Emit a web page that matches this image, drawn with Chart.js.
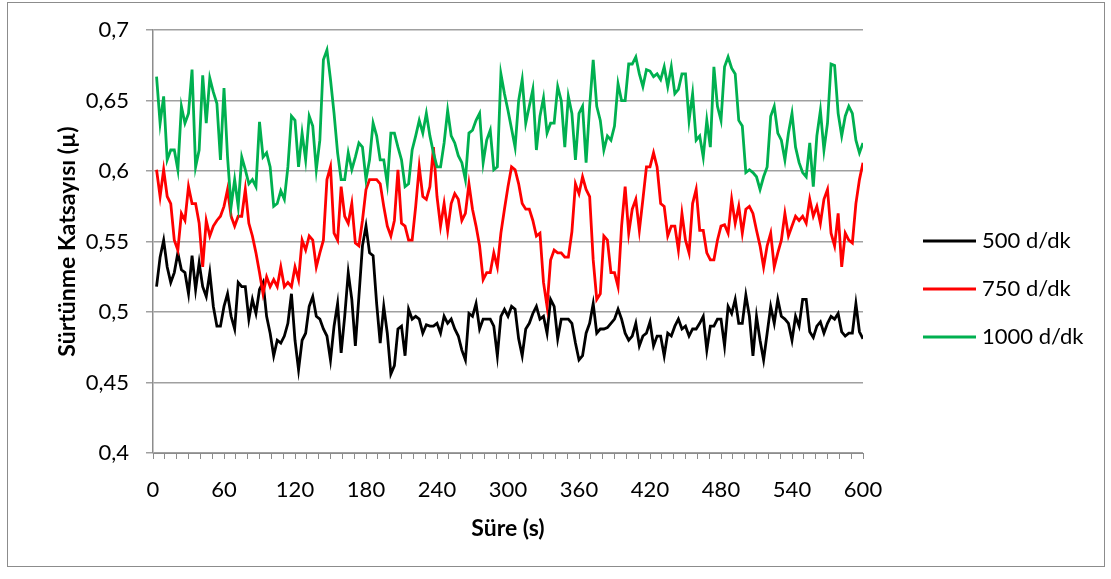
<!DOCTYPE html>
<html>
<head>
<meta charset="utf-8">
<script src="https://cdn.jsdelivr.net/npm/chart.js@4.4.1/dist/chart.umd.min.js"></script>
<style>
  html, body { margin: 0; padding: 0; background: #fff; }
</style>
</head>
<body>
<canvas id="chart" width="1111" height="579"></canvas>
<script>
// readings every 3 s, 3..600
const seconds = Array.from({ length: 200 }, (_, i) => 3 * (i + 1));

const seriesNames = ['500 d/dk', '750 d/dk', '1000 d/dk'];
const seriesColors = ['#000000', '#ff0000', '#00b050'];

const mu500 = [
  0.518, 0.539, 0.551, 0.532, 0.521, 0.528, 0.542, 0.530, 0.528, 0.513,
  0.540, 0.516, 0.535, 0.518, 0.511, 0.528, 0.504, 0.490, 0.490, 0.504,
  0.513, 0.497, 0.488, 0.521, 0.518, 0.518, 0.495, 0.509, 0.499, 0.516,
  0.521, 0.497, 0.485, 0.469, 0.480, 0.478, 0.483, 0.492, 0.513, 0.480,
  0.459, 0.480, 0.485, 0.504, 0.511, 0.497, 0.495, 0.488, 0.483, 0.466,
  0.490, 0.506, 0.471, 0.497, 0.528, 0.509, 0.476, 0.511, 0.547, 0.561,
  0.542, 0.540, 0.506, 0.478, 0.504, 0.485, 0.456, 0.462, 0.488, 0.490,
  0.469, 0.502, 0.495, 0.497, 0.495, 0.485, 0.491, 0.490, 0.490, 0.492,
  0.485, 0.497, 0.492, 0.495, 0.488, 0.483, 0.473, 0.466, 0.499, 0.497,
  0.506, 0.488, 0.495, 0.495, 0.495, 0.490, 0.469, 0.497, 0.502, 0.497,
  0.504, 0.502, 0.481, 0.469, 0.488, 0.492, 0.499, 0.504, 0.495, 0.497,
  0.485, 0.509, 0.504, 0.481, 0.495, 0.495, 0.495, 0.492, 0.478, 0.466,
  0.469, 0.485, 0.492, 0.506, 0.485, 0.488, 0.488, 0.489, 0.492, 0.495,
  0.502, 0.495, 0.485, 0.480, 0.483, 0.492, 0.476, 0.483, 0.485, 0.493,
  0.476, 0.483, 0.483, 0.469, 0.485, 0.483, 0.490, 0.495, 0.488,
  0.490, 0.483, 0.488, 0.488, 0.492, 0.497, 0.473, 0.490, 0.490, 0.495,
  0.495, 0.476, 0.504, 0.499, 0.509, 0.492, 0.492, 0.512, 0.497, 0.469,
  0.497, 0.480, 0.466, 0.485, 0.504, 0.492, 0.509, 0.497, 0.495, 0.492,
  0.480, 0.497, 0.490, 0.509, 0.509, 0.486, 0.482, 0.490, 0.493, 0.485,
  0.492, 0.497, 0.495, 0.499, 0.486, 0.483, 0.485, 0.485, 0.506, 0.486,
  0.481
];

const mu750 = [
  0.601, 0.582, 0.601, 0.582, 0.577, 0.551, 0.544, 0.570, 0.565, 0.589,
  0.577, 0.577, 0.563, 0.532, 0.565, 0.554, 0.561, 0.565, 0.568, 0.575,
  0.587, 0.568, 0.561, 0.568, 0.568, 0.587, 0.563, 0.554, 0.542, 0.528,
  0.513, 0.525, 0.518, 0.523, 0.518, 0.532, 0.518, 0.521, 0.518, 0.532,
  0.523, 0.551, 0.544, 0.554, 0.551, 0.532, 0.542, 0.551, 0.594, 0.603,
  0.556, 0.551, 0.589, 0.568, 0.563, 0.577, 0.549, 0.547, 0.565, 0.587,
  0.594, 0.594, 0.594, 0.591, 0.575, 0.561, 0.554, 0.565, 0.601, 0.563,
  0.561, 0.551, 0.551, 0.575, 0.603, 0.582, 0.580, 0.589, 0.617, 0.582,
  0.561, 0.577, 0.558, 0.577, 0.584, 0.580, 0.565, 0.570, 0.591, 0.573,
  0.561, 0.547, 0.523, 0.528, 0.528, 0.542, 0.532, 0.556, 0.573, 0.589,
  0.603, 0.601, 0.591, 0.577, 0.573, 0.573, 0.565, 0.554, 0.556, 0.521,
  0.504, 0.537, 0.544, 0.542, 0.542, 0.539, 0.539, 0.557, 0.591, 0.584,
  0.596, 0.587, 0.582, 0.537, 0.509, 0.513, 0.554, 0.551, 0.528, 0.528,
  0.518, 0.561, 0.589, 0.556, 0.573, 0.580, 0.558, 0.580, 0.603, 0.603,
  0.613, 0.603, 0.577, 0.575, 0.554, 0.561, 0.561, 0.544, 0.570,
  0.551, 0.542, 0.577, 0.587, 0.558, 0.558, 0.542, 0.537, 0.537, 0.551,
  0.561, 0.562, 0.556, 0.580, 0.563, 0.575, 0.556, 0.573, 0.575, 0.570,
  0.558, 0.547, 0.532, 0.547, 0.556, 0.532, 0.542, 0.551, 0.570, 0.554,
  0.561, 0.568, 0.565, 0.568, 0.563, 0.580, 0.568, 0.575, 0.563, 0.580,
  0.587, 0.556, 0.547, 0.570, 0.532, 0.556, 0.551, 0.549, 0.577, 0.594,
  0.606
];

const mu1000 = [
  0.667, 0.634, 0.653, 0.608, 0.615, 0.615, 0.601, 0.646, 0.634, 0.641,
  0.672, 0.603, 0.615, 0.668, 0.634, 0.666, 0.656, 0.648, 0.608, 0.659,
  0.610, 0.575, 0.594, 0.575, 0.610, 0.601, 0.591, 0.594, 0.589, 0.635,
  0.610, 0.613, 0.603, 0.575, 0.577, 0.586, 0.580, 0.603, 0.639, 0.636,
  0.603, 0.627, 0.608, 0.639, 0.632, 0.601, 0.622, 0.679, 0.686, 0.665,
  0.641, 0.613, 0.594, 0.594, 0.613, 0.601, 0.610, 0.620, 0.617, 0.594,
  0.608, 0.634, 0.625, 0.608, 0.608, 0.591, 0.627, 0.627, 0.617, 0.608,
  0.589, 0.591, 0.615, 0.625, 0.636, 0.627, 0.641, 0.625, 0.613, 0.603,
  0.603, 0.620, 0.643, 0.625, 0.620, 0.611, 0.606, 0.594, 0.627, 0.629,
  0.636, 0.641, 0.606, 0.622, 0.629, 0.601, 0.603, 0.669, 0.655, 0.643,
  0.630, 0.617, 0.650, 0.665, 0.634, 0.646, 0.658, 0.615, 0.639, 0.652,
  0.627, 0.634, 0.634, 0.660, 0.650, 0.617, 0.653, 0.641, 0.608, 0.641,
  0.646, 0.606, 0.646, 0.679, 0.646, 0.636, 0.615, 0.625, 0.622, 0.632,
  0.662, 0.650, 0.650, 0.676, 0.676, 0.681, 0.669, 0.660, 0.672, 0.671,
  0.667, 0.669, 0.665, 0.674, 0.660, 0.674, 0.655, 0.658, 0.669,
  0.669, 0.636, 0.655, 0.622, 0.625, 0.610, 0.636, 0.617, 0.674, 0.646,
  0.636, 0.674, 0.681, 0.673, 0.669, 0.636, 0.632, 0.599, 0.601, 0.599,
  0.596, 0.587, 0.596, 0.603, 0.639, 0.646, 0.627, 0.622, 0.608, 0.627,
  0.641, 0.617, 0.606, 0.599, 0.596, 0.620, 0.589, 0.625, 0.643, 0.615,
  0.634, 0.676, 0.675, 0.641, 0.625, 0.639, 0.646, 0.641, 0.622, 0.613,
  0.620
];

const xLabelEvery = 60;
const axisGray = '#8c8c8c';

Chart.defaults.font.family = 'Lato';
Chart.defaults.color = '#000';

// outer frame like the spreadsheet chart box
const frame = {
  id: 'frame',
  beforeDraw(chart) {
    const ctx = chart.ctx;
    ctx.save();
    ctx.fillStyle = '#fff';
    ctx.fillRect(0, 0, chart.width, chart.height);
    ctx.strokeStyle = axisGray;
    ctx.lineWidth = 1;
    ctx.strokeRect(7.5, 2.5, 1097, 564);
    ctx.restore();
  }
};

// legend at the right, line sample + label
const sideLegend = {
  id: 'sideLegend',
  afterDraw(chart) {
    const ctx = chart.ctx;
    ctx.save();
    ctx.font = '22px Lato';
    ctx.textBaseline = 'middle';
    chart.data.datasets.forEach((ds, i) => {
      const y = 241 + i * 48;
      ctx.strokeStyle = ds.borderColor;
      ctx.lineWidth = 3;
      ctx.beginPath();
      ctx.moveTo(923, y);
      ctx.lineTo(976, y);
      ctx.stroke();
      ctx.fillStyle = '#000';
      ctx.fillText(ds.label, 982, y);
    });
    ctx.restore();
  }
};

const toPoints = (vals) => vals.map((v, i) => ({ x: seconds[i], y: v }));

new Chart(document.getElementById('chart'), {
  type: 'line',
  data: {
    datasets: [mu500, mu750, mu1000].map((vals, i) => ({
      label: seriesNames[i],
      data: toPoints(vals),
      borderColor: seriesColors[i],
      borderWidth: 2.8,
      pointRadius: 0,
      tension: 0,
      order: 2 - i
    }))
  },
  options: {
    responsive: false,
    devicePixelRatio: 1,
    animation: false,
    layout: { padding: { left: 0, right: 248, top: 30, bottom: 0 } },
    plugins: {
      legend: { display: false },
      tooltip: { enabled: false }
    },
    scales: {
      x: {
        type: 'linear',
        min: 0,
        max: 600,
        afterFit: (s) => { s.height = 126; },
        ticks: {
          stepSize: 10,
          maxTicksLimit: 100,
          autoSkip: false,
          maxRotation: 0,
          padding: 18,
          font: { size: 22 },
          callback: (v) => (v % xLabelEvery === 0 ? String(v) : '')
        },
        grid: {
          drawOnChartArea: false,
          drawTicks: true,
          tickLength: 6,
          color: axisGray
        },
        border: { display: true, color: axisGray, width: 1 },
        title: {
          display: true,
          text: 'Süre (s)',
          font: { size: 23, weight: 'bold' },
          padding: { top: 0, bottom: 37 }
        }
      },
      y: {
        min: 0.4,
        max: 0.7,
        afterFit: (s) => { s.width = 153; },
        ticks: {
          stepSize: 0.05,
          padding: 17,
          font: { size: 22 },
          callback: (v) => String(parseFloat(v.toFixed(2))).replace('.', ',')
        },
        grid: {
          color: '#a0a0a0',
          lineWidth: 1.5,
          tickLength: 7
        },
        border: { display: true, color: axisGray, width: 1.5 },
        title: {
          display: true,
          text: 'Sürtünme Katsayısı (µ)',
          font: { size: 23, weight: 'bold' },
          padding: { top: 54, bottom: 0 }
        }
      }
    }
  },
  plugins: [frame, sideLegend]
});
</script>
</body>
</html>
